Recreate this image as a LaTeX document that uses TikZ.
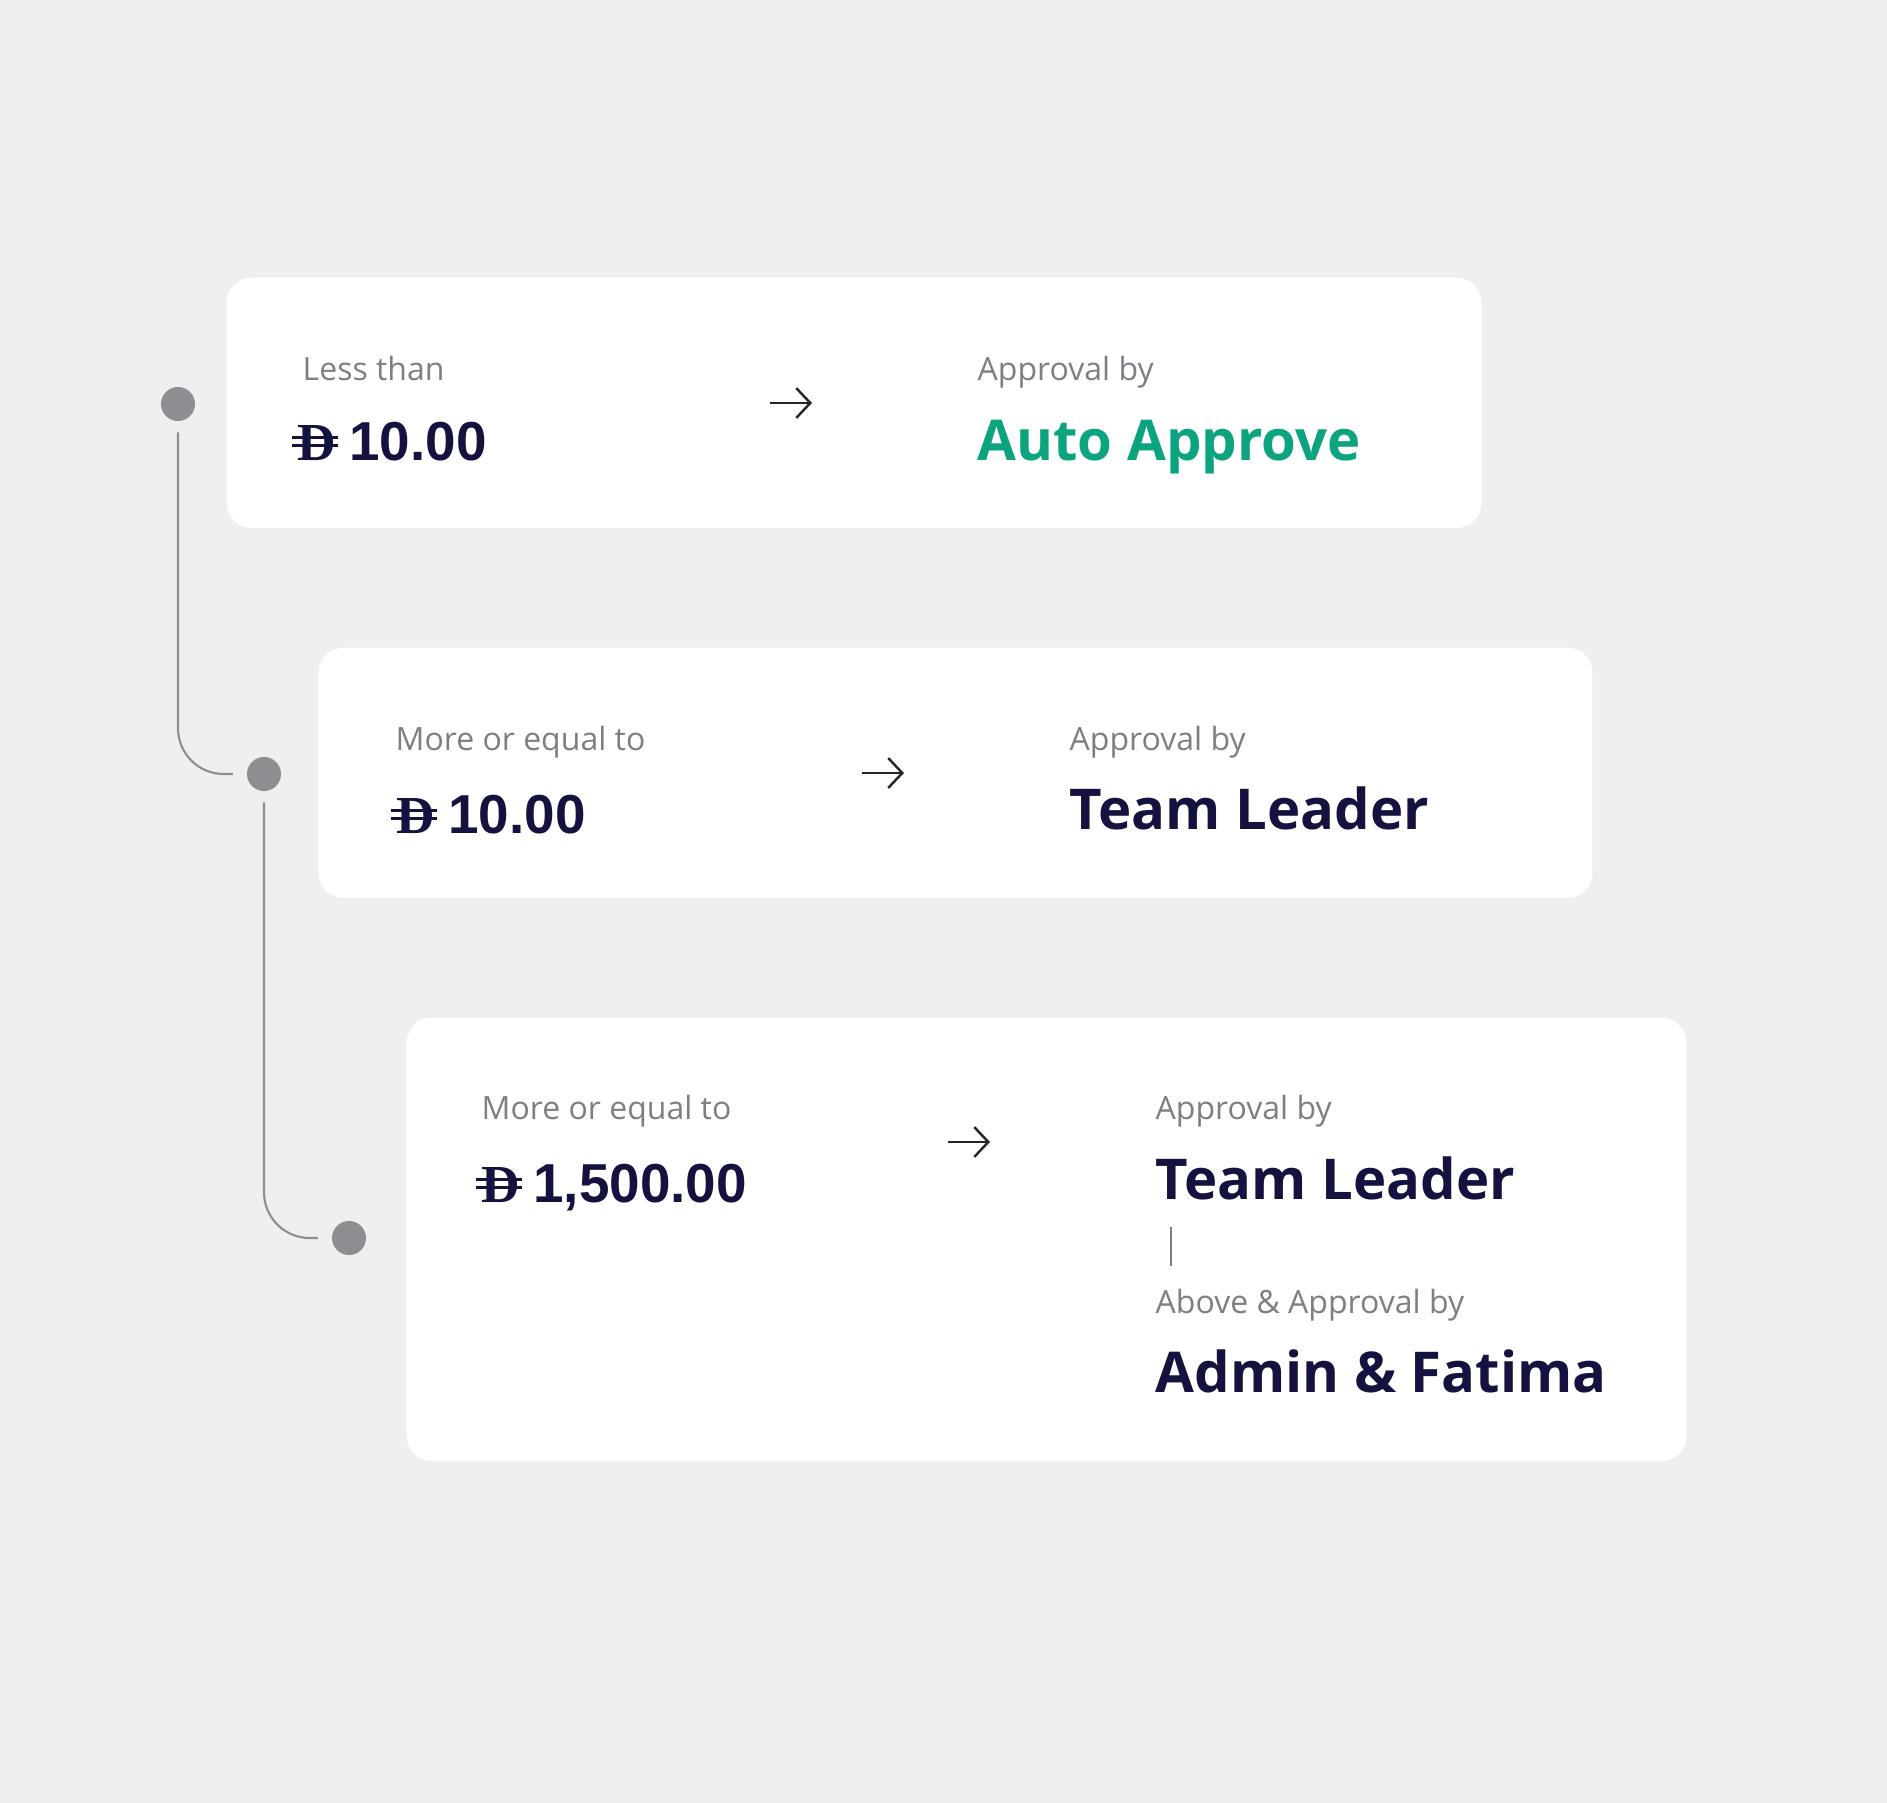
\documentclass[tikz,border=0pt]{standalone}
\usepackage{fontspec}
\setmainfont{Open Sans}
\newfontfamily\numfont{Liberation Sans}
\newfontfamily\symfont{Liberation Serif}
\usetikzlibrary{arrows.meta,positioning}
\definecolor{bgcol}{HTML}{EFEEF1}
\definecolor{navy}{HTML}{14123F}
\definecolor{labelgray}{HTML}{7F7E85}
\definecolor{dotgray}{HTML}{8E8D92}
\definecolor{autogreen}{HTML}{0CA47E}
\begin{document}
\begin{tikzpicture}[x=0.01cm, y=-0.01cm,
  card/.style={fill=white, rounded corners=7pt, inner sep=0, anchor=north west},
  dot/.style={circle, fill=dotgray, minimum size=0.34cm, inner sep=0},
  link/.style={draw=dotgray, line width=0.6pt, rounded corners=13pt},
  lbl/.style={anchor=base west, inner sep=0, text=labelgray, font=\fontsize{9.1}{11}\selectfont},
  who/.style={anchor=base west, inner sep=0, text=navy, font=\bfseries\fontsize{16}{19}\selectfont},
  amt/.style={anchor=base west, inner sep=0, text=navy, font=\numfont\bfseries\fontsize{15.6}{18}\selectfont},
  cur/.style={anchor=base west, inner sep=0, text=navy, font=\symfont\bfseries\fontsize{15.2}{18}\selectfont},
  go/.style={draw=black!85, line width=0.7pt, -{Straight Barb[length=4pt,width=8.5pt]}}]
  % page and background
  \useasboundingbox (0,0) rectangle (1887,1803);
  \fill[bgcol] (0,0) rectangle (1887,1803);
  % the three rule cards
  \node[card, minimum width=12.54cm, minimum height=2.50cm] (card1) at (226,277) {};
  \node[card, minimum width=12.73cm, minimum height=2.50cm] (card2) at (318,647) {};
  \node[card, minimum width=12.79cm, minimum height=4.43cm] (card3) at (406,1017) {};
  % timeline dots and links
  \node[dot] (d1) at (178,404) {};
  \node[dot] (d2) at (264,774) {};
  \node[dot] (d3) at (349,1238) {};
  \draw[link] ([yshift=-3pt]d1.south) |- ([xshift=-3.8pt]d2.west);
  \draw[link] ([yshift=-3pt]d2.south) |- ([xshift=-3.8pt]d3.west);
  % card 1
  \node[lbl] (less1) at (302,380) {Less than};
  \node[cur] (cur1) at (297,460) {D};
  \node[amt, base right=3.3pt of cur1] (amt1) {10.00};
  \coordinate (a1s) at (770,403);
  \coordinate (a1e) at (812,403);
  \draw[go] (a1s) -- (a1e);
  \node[lbl] (appr1) at (977,380) {Approval by};
  \node[who, text=autogreen] (auto1) at (977,460) {Auto Approve};
  % card 2
  \node[lbl] (more2) at (395,750) {More or equal to};
  \node[cur] (cur2) at (396,833) {D};
  \node[amt, base right=3.3pt of cur2] (amt2) {10.00};
  \coordinate (a2s) at (862,773);
  \coordinate (a2e) at (904,773);
  \draw[go] (a2s) -- (a2e);
  \node[lbl] (appr2) at (1069,750) {Approval by};
  \node[who] (lead2) at (1069,829) {Team Leader};
  % card 3
  \node[lbl] (more3) at (481,1119) {More or equal to};
  \node[cur] (cur3) at (481,1202) {D};
  \node[amt, base right=3.3pt of cur3] (amt3) {1,500.00};
  \coordinate (a3s) at (948,1142);
  \coordinate (a3e) at (990,1142);
  \draw[go] (a3s) -- (a3e);
  \node[lbl] (appr3) at (1155,1119) {Approval by};
  \node[who] (lead3) at (1155,1199) {Team Leader};
  \coordinate (s3t) at (1171,1227);
  \coordinate (s3b) at (1171,1266);
  \draw[labelgray, line width=0.5pt] (s3t) -- (s3b);
  \node[lbl] (above3) at (1155,1313) {Above \& Approval by};
  \node[who] (admin3) at (1155,1392) {Admin \& Fatima};
  % double bar of the currency sign
  \foreach \c in {cur1,cur2,cur3} {
    \draw[navy, line width=1pt] ([xshift=-1.4pt,yshift=4.1pt]\c.base west) -- ([xshift=0.4pt,yshift=4.1pt]\c.base east);
    \draw[navy, line width=1pt] ([xshift=-1.4pt,yshift=6.4pt]\c.base west) -- ([xshift=0.4pt,yshift=6.4pt]\c.base east);
  }
\end{tikzpicture}
\end{document}
